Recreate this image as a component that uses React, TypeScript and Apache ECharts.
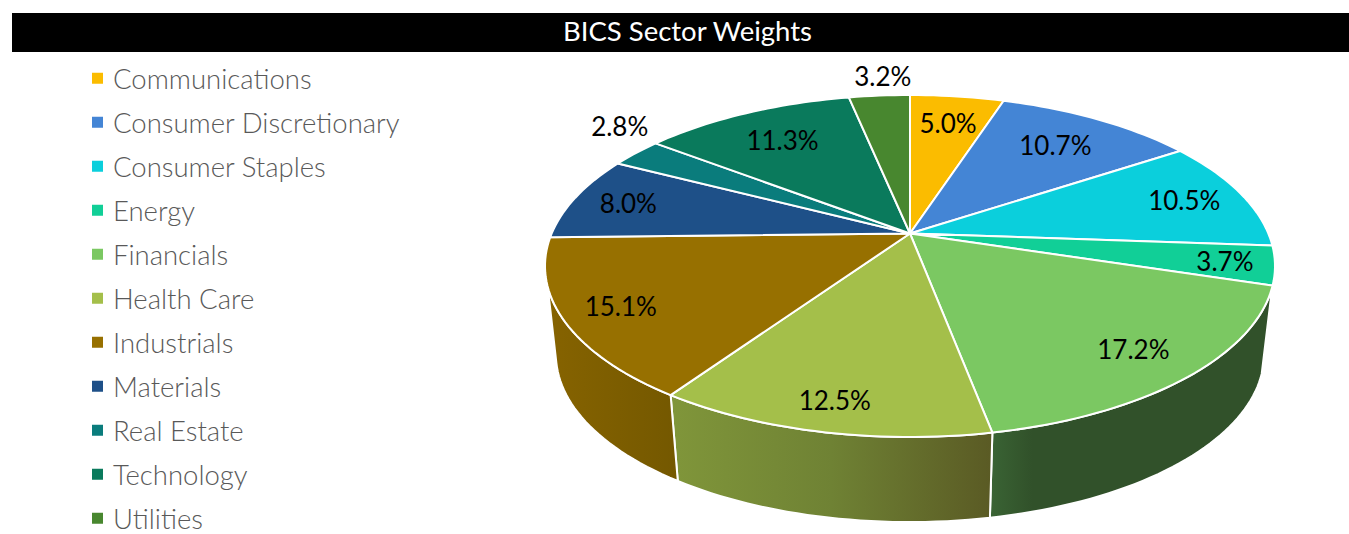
import React, { useEffect, useRef } from "react";
import * as echarts from "echarts";

const sectors = ["Communications", "Consumer Discretionary", "Consumer Staples", "Energy", "Financials", "Health Care", "Industrials", "Materials", "Real Estate", "Technology", "Utilities"];
// Estimated from the slice boundaries; each rounds to the printed one-decimal label.
const weights = [4.99, 10.66, 10.47, 3.67, 17.17, 12.5, 15.1, 8.0, 2.8, 11.3, 3.24];
const colors = ["#FBBC00", "#4485D5", "#0BCFDC", "#11CF97", "#7BC862", "#A4BF4A", "#977000", "#1E5088", "#0A7C7C", "#0A7A5C", "#48872F"];
// Side-wall gradients, left to right, for the slices whose wall faces the viewer.
const wallStops: Record<string, [number, string][]> = {
  Financials: [[0, "#3A6434"], [0.15, "#31512A"], [1, "#31512A"]],
  "Health Care": [[0, "#80963A"], [0.5, "#6F8234"], [1, "#5A5A24"]],
  Industrials: [[0, "#866300"], [1, "#745800"]],
};
// Radial distance of each label, as a fraction of the radius, and a small turn in degrees.
const labelRadii = [0.777, 0.747, 0.823, 0.867, 0.827, 0.865, 0.848, 0.836, 1.19, 0.752, 1.17];
const labelTurns = [0, 0, 0, 0, 0, 0, 0, 0, 6.4, 0, 1.3];

const FONT = "Lato";
const CX = 910;
const TOP_CY = 266;
const RX = 365;
const RY = 171;
const C = 233.5 - TOP_CY; // where the pie's centre lands under the perspective
const K = C / RY;
const A = RX * Math.sqrt(1 - K * K);
const BOTTOM_CY = 354.5;
const BOTTOM_SX = 0.97;
const BOTTOM_SY = 0.98;
const WALL_TOP_FROM = 107.8;
const WALL_BOTTOM_FROM = 103.8;

const rad = (d: number) => (d * Math.PI) / 180;

// Perspective projection of a pie point; angle is clockwise from 12 o'clock.
function project(deg: number, r = 1) {
  const u = r * Math.sin(rad(deg));
  const v = -r * Math.cos(rad(deg));
  const w = 1 + K * v;
  return { x: (A * u) / w, y: (RY * v + C) / w };
}
const topPt = (deg: number, r = 1) => {
  const p = project(deg, r);
  return [CX + p.x, TOP_CY + p.y];
};
const bottomPt = (deg: number) => {
  const p = project(deg);
  return [CX + BOTTOM_SX * p.x, BOTTOM_CY + BOTTOM_SY * p.y];
};
function arc(from: number, to: number, at: (d: number) => number[]) {
  const n = Math.max(2, Math.ceil((to - from) / 1.5));
  const pts: number[][] = [];
  for (let i = 0; i <= n; i++) pts.push(at(from + ((to - from) * i) / n));
  return pts;
}

const total = weights.reduce((a, b) => a + b, 0);
const startAngles = weights.map((_, i) => (weights.slice(0, i).reduce((a, b) => a + b, 0) / total) * 360);

function renderSlice(index: number) {
  return (_params: any, api: any) => {
    const value = api.value(0);
    const a0 = startAngles[index];
    const a1 = a0 + (value / total) * 360;
    const mid = (a0 + a1) / 2 + labelTurns[index];
    const children: any[] = [];

    const topFrom = Math.max(a0, WALL_TOP_FROM);
    const topTo = Math.min(a1, 360 - WALL_TOP_FROM);
    const botFrom = Math.max(a0, WALL_BOTTOM_FROM);
    const botTo = Math.min(a1, 360 - WALL_BOTTOM_FROM);
    const stops = wallStops[sectors[index]];
    if (topTo > topFrom && stops) {
      const upper = arc(topFrom, topTo, topPt);
      const lower = arc(botFrom, botTo, bottomPt).reverse();
      children.push({
        type: "polygon",
        shape: { points: upper.concat(lower) },
        style: {
          fill: new echarts.graphic.LinearGradient(0, 0, 1, 0, stops.map(([offset, color]) => ({ offset, color }))),
          stroke: "#ffffff",
          lineWidth: 2,
          lineJoin: "round",
        },
      });
    }

    children.push({
      type: "polygon",
      z2: 5,
      shape: { points: [topPt(0, 0), ...arc(a0, a1, topPt)] },
      style: { fill: colors[index], stroke: "#ffffff", lineWidth: 2, lineJoin: "round" },
    });

    const lp = topPt(mid, labelRadii[index]);
    children.push({
      type: "text",
      z2: 10,
      x: lp[0],
      y: lp[1],
      style: {
        text: value.toFixed(1) + "%",
        fill: "#000000",
        font: `400 26px ${FONT}`,
        align: "center",
        verticalAlign: "middle",
      },
    });
    return { type: "group", children };
  };
}

export default function App() {
  const ref = useRef<HTMLDivElement>(null);
  useEffect(() => {
    document.body.style.margin = "0";
    const chart = echarts.init(ref.current!, null, { renderer: "svg" });
    chart.setOption({
      animation: false,
      backgroundColor: "#ffffff",
      title: {
        text: "BICS Sector Weights",
        left: 682.5,
        top: 11,
        textAlign: "center",
        textStyle: { color: "#ffffff", fontFamily: FONT, fontSize: 27.5, fontWeight: 400 },
      },
      graphic: [{ type: "rect", z: 0, shape: { x: 12, y: 13, width: 1337, height: 39 }, style: { fill: "#000000" } }],
      legend: {
        orient: "vertical",
        left: 92,
        top: 64.25,
        height: 480,
        selectedMode: false,
        icon: "rect",
        itemWidth: 11,
        itemHeight: 11,
        itemGap: 16,
        padding: 0,
        data: sectors,
        textStyle: { color: "#595959", fontFamily: FONT, fontSize: 27.5, fontWeight: 300, lineHeight: 24, padding: [0, 0, 0, 5] },
      },
      series: sectors.map((name, i) => ({
        type: "custom",
        name,
        coordinateSystem: "none",
        silent: true,
        itemStyle: { color: colors[i] },
        data: [[weights[i]]],
        renderItem: renderSlice(i),
      })),
    });
    return () => chart.dispose();
  }, []);
  return <div ref={ref} style={{ width: 1349, height: 534 }} />;
}
